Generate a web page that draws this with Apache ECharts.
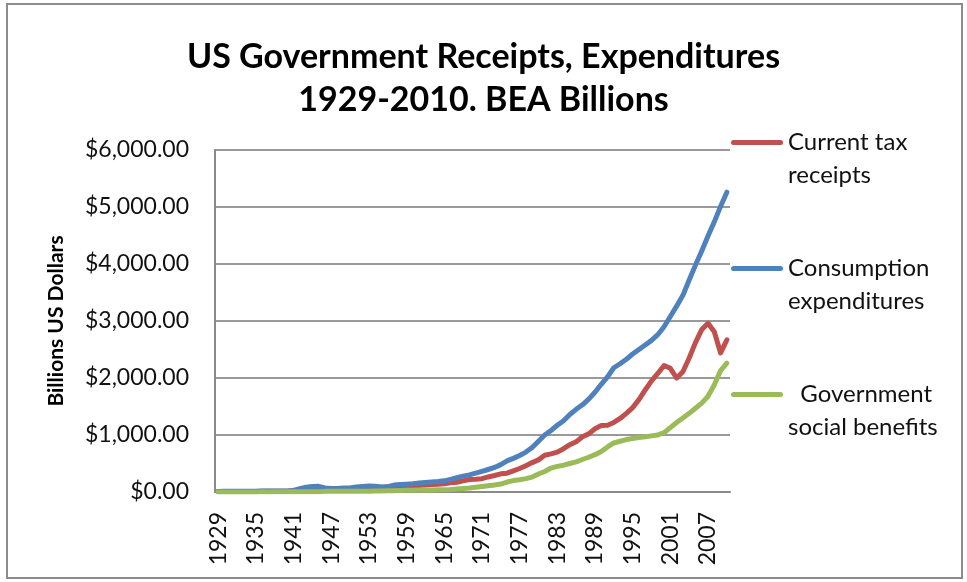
<!DOCTYPE html>
<html>
<head>
<meta charset="utf-8">
<script src="https://cdn.jsdelivr.net/npm/echarts@6/dist/echarts.min.js"></script>
<style>
  html, body { margin: 0; padding: 0; background: #fff; }
  #chart { width: 967px; height: 582px; }
</style>
</head>
<body>
<div id="chart"></div>
<script>
// US government receipts and expenditures, BEA, billions of dollars
const years = [
  '1929','1930','1931','1932','1933','1934','1935','1936','1937','1938',
  '1939','1940','1941','1942','1943','1944','1945','1946','1947','1948',
  '1949','1950','1951','1952','1953','1954','1955','1956','1957','1958',
  '1959','1960','1961','1962','1963','1964','1965','1966','1967','1968',
  '1969','1970','1971','1972','1973','1974','1975','1976','1977','1978',
  '1979','1980','1981','1982','1983','1984','1985','1986','1987','1988',
  '1989','1990','1991','1992','1993','1994','1995','1996','1997','1998',
  '1999','2000','2001','2002','2003','2004','2005','2006','2007','2008',
  '2009','2010'
];

const taxReceipts = [
  9, 8, 7, 7, 7, 8, 9, 11, 13, 12,
  12, 15, 24, 33, 47, 47, 50, 48, 52, 52,
  48, 60, 72, 75, 78, 74, 84, 90, 94, 92,
  103, 111, 114, 122, 131, 134, 145, 161, 171, 195,
  220, 222, 234, 264, 289, 319, 330, 372, 412, 462,
  516, 564, 644, 670, 700, 760, 830, 880, 970, 1020,
  1110, 1165, 1170, 1220, 1290, 1380, 1480, 1620, 1790, 1950,
  2080, 2220, 2170, 2000, 2110, 2350, 2620, 2850, 2960, 2810,
  2440, 2670
];

const consumptionExp = [
  10, 11, 12, 12, 12, 14, 15, 17, 16, 17,
  18, 19, 27, 60, 85, 98, 100, 70, 60, 62,
  70, 72, 86, 98, 104, 102, 88, 92, 122, 132,
  138, 146, 158, 168, 176, 184, 196, 222, 250, 278,
  300, 330, 362, 395, 430, 480, 545, 590, 640, 700,
  780, 890, 1000, 1080, 1170, 1250, 1360, 1450, 1530, 1630,
  1750, 1890, 2020, 2180, 2250, 2330, 2420, 2500, 2580, 2660,
  2760, 2900, 3080, 3260, 3450, 3720, 3980, 4230, 4490, 4740,
  5010, 5260
];

const socialBenefits = [
  1, 1, 2, 2, 2, 2, 2, 3, 2, 3,
  3, 3, 3, 3, 3, 4, 6, 11, 12, 11,
  13, 15, 12, 13, 14, 17, 18, 20, 23, 28,
  29, 31, 35, 35, 37, 38, 41, 45, 53, 62,
  69, 83, 98, 110, 122, 140, 175, 200, 215, 235,
  262, 315, 360, 420, 450, 470, 500, 530, 570, 610,
  655, 710, 790, 860, 890, 920, 940, 955, 970, 985,
  1000, 1040, 1130, 1220, 1300, 1380, 1470, 1560, 1680, 1880,
  2130, 2260
];

const seriesNames = ['Current tax receipts', 'Consumption expenditures', 'Government social benefits'];
// Legend text wraps onto two lines; the leading blank line keeps the key line level with the first line
const legendLines = {
  'Current tax receipts': '\nCurrent tax\nreceipts',
  'Consumption expenditures': '\nConsumption\nexpenditures',
  'Government social benefits': '\n  Government\nsocial benefits'
};
const colors = ['#C0504D', '#4F81BD', '#9BBB59'];

const FONT = 'Lato, "Open Sans", sans-serif';
const chart = echarts.init(document.getElementById('chart'), null, { renderer: 'canvas' });

function lineSeries(name, data, color) {
  return {
    name: name,
    type: 'line',
    data: data,
    showSymbol: false,
    symbol: 'none',
    animation: false,
    color: color,
    lineStyle: { color: color, width: 5, cap: 'round', join: 'round' }
  };
}

chart.setOption({
  animation: false,
  backgroundColor: '#ffffff',
  title: {
    text: 'US Government Receipts, Expenditures\n1929-2010. BEA Billions',
    left: 'center',
    top: 31,
    textStyle: {
      fontFamily: FONT,
      fontWeight: 'bold',
      fontSize: 34,
      lineHeight: 43,
      color: '#000'
    }
  },
  legend: {
    orient: 'vertical',
    left: 731,
    top: 93,
    padding: 0,
    itemGap: 27,
    itemWidth: 52,
    itemHeight: 5,
    icon: 'path://M2.5,0 L49.5,0 A2.5,2.5 0 0 1 49.5,5 L2.5,5 A2.5,2.5 0 0 1 2.5,0 Z',
    selectedMode: false,
    data: seriesNames,
    formatter: function (name) { return legendLines[name]; },
    textStyle: {
      fontFamily: FONT,
      fontSize: 24,
      lineHeight: 33,
      color: '#111'
    }
  },
  grid: {
    left: 215,
    right: 237,
    top: 150,
    bottom: 90,
    containLabel: false
  },
  xAxis: {
    type: 'category',
    data: years,
    boundaryGap: true,
    axisLine: { show: true, lineStyle: { color: '#8a8a8a', width: 2 } },
    axisTick: { show: false },
    axisLabel: {
      interval: 5,
      rotate: 90,
      margin: 20,
      fontFamily: FONT,
      fontSize: 23,
      color: '#111'
    },
    splitLine: { show: false }
  },
  yAxis: {
    type: 'value',
    min: 0,
    max: 6000,
    interval: 1000,
    name: 'Billions US Dollars',
    nameLocation: 'middle',
    nameGap: 148,
    nameTextStyle: {
      fontFamily: FONT,
      fontWeight: 'bold',
      fontSize: 21,
      color: '#000'
    },
    axisLine: { show: true, lineStyle: { color: '#8a8a8a', width: 2 } },
    axisTick: { show: false },
    axisLabel: {
      margin: 26,
      fontFamily: FONT,
      fontSize: 23,
      color: '#111',
      formatter: function (v) {
        return '$' + v.toLocaleString('en-US', { minimumFractionDigits: 2, maximumFractionDigits: 2 });
      }
    },
    splitLine: { show: true, lineStyle: { color: '#9a9a9a', width: 2 } }
  },
  graphic: [{
    type: 'rect',
    shape: { x: 7, y: 4, width: 955, height: 574 },
    style: { fill: 'none', stroke: '#8c8c8c', lineWidth: 2 },
    silent: true,
    z: -1
  }],
  series: [
    lineSeries(seriesNames[0], taxReceipts, colors[0]),
    lineSeries(seriesNames[1], consumptionExp, colors[1]),
    lineSeries(seriesNames[2], socialBenefits, colors[2])
  ]
});
</script>
</body>
</html>
